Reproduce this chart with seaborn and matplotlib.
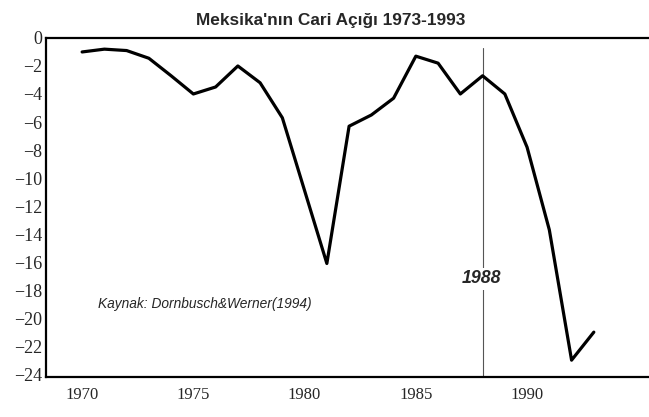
'''Meksika cari acigi grafigi'''
import matplotlib
matplotlib.use('Agg')
import matplotlib.pyplot as plt
import matplotlib.ticker as ticker
import pandas
import seaborn as sns

#region data
years = [1970, 1971, 1972, 1973, 1974, 1975, 1976, 1977, 1978, 1979, 1980, 1981,
         1982, 1983, 1984, 1985, 1986, 1987, 1988, 1989, 1990, 1991, 1992, 1993]
deficit = [-1.0, -0.8, -0.9, -1.45, -2.7, -4.0, -3.5, -2.0, -3.2, -5.7, -10.9, -16.1,
           -6.3, -5.5, -4.3, -1.3, -1.8, -4.0, -2.7, -4.0, -7.8, -13.7, -23.0, -21.0]
title = "Meksika'nın Cari Açığı 1973-1993"
source_note = 'Kaynak: Dornbusch&Werner(1994)'
mark_year = 1988
#endregion

df = pandas.DataFrame({'year': years, 'deficit': deficit})

sns.set_style('white')
plt.rcParams['font.family'] = ['Liberation Serif', 'DejaVu Serif']

fig = plt.figure(figsize=(6.49, 4.17), dpi=100)
ax = fig.add_axes([0.071, 0.096, 0.929, 0.813])

sns.lineplot(x='year', y='deficit', data=df, color='black', linewidth=2.3, ax=ax)

# vertical marker at 1988
ax.plot([mark_year, mark_year], [-24.2, -0.7], color='#555555', linewidth=0.8, zorder=1)
ax.text(mark_year - 0.05, -17.2, str(mark_year), family=['Liberation Sans'], style='italic',
        weight='bold', fontsize=12.8, ha='center', va='center',
        bbox=dict(facecolor='white', edgecolor='none', pad=1.5), zorder=2)

ax.text(1970.7, -19.0, source_note, family=['Liberation Sans'], style='italic',
        fontsize=9.9, ha='left', va='center')

fig.text(0.51, 0.95, title, family=['Liberation Sans'], weight='bold', fontsize=12.4,
         ha='center', va='center')

#region axis
ax.set_xlim(1968.38, 1995.48)
ax.set_ylim(-24.2, 0)
ax.set_xlabel('')
ax.set_ylabel('')
ax.xaxis.set_major_locator(ticker.FixedLocator([1970, 1975, 1980, 1985, 1990]))
ax.xaxis.set_minor_locator(ticker.FixedLocator([y for y in range(1971, 1995) if y % 5 != 0]))
ax.yaxis.set_major_locator(ticker.MultipleLocator(2))
ax.yaxis.set_major_formatter(ticker.FuncFormatter(lambda v, p: '%d' % v if v == 0 else '\u2212%d' % abs(v)))
ax.tick_params(axis='x', which='major', direction='in', length=11, width=1.4, labelsize=12, pad=7, color='black')
ax.tick_params(axis='x', which='minor', direction='in', length=5, width=1.4, color='black')
ax.tick_params(axis='y', which='major', direction='in', length=4, width=1.4, labelsize=13, pad=3, color='black')
sns.despine(ax=ax, top=False, right=True)
for s in ['left', 'top', 'bottom']:
    ax.spines[s].set_color('black')
    ax.spines[s].set_linewidth(1.6)
#endregion

fig.savefig('out.png', dpi=100, facecolor='white')
